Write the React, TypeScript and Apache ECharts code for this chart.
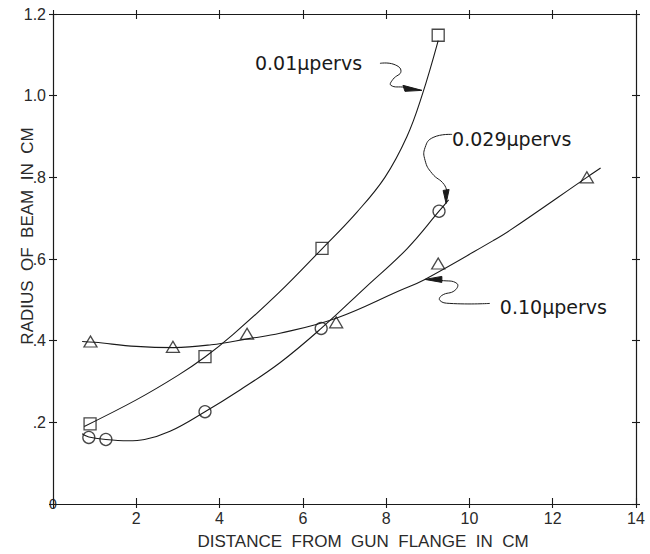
import React, { useEffect, useRef } from 'react';
import * as echarts from 'echarts';

// ---- data ----
const xTickValues = [0, 2, 4, 6, 8, 10, 12, 14];
const yTickValues = [0, 0.2, 0.4, 0.6, 0.8, 1.0, 1.2];

// measured points (markers)
const squarePoints = [[0.89, 0.196], [3.65, 0.361], [6.46, 0.626], [9.25, 1.148]];
const circlePoints = [[0.86, 0.163], [1.27, 0.158], [3.65, 0.226], [6.44, 0.43], [9.27, 0.717]];
const trianglePoints = [[0.9, 0.398], [2.88, 0.385], [4.66, 0.417], [6.8, 0.445], [9.25, 0.589], [12.82, 0.8]];

// hand-drawn curves
const squareCurve = [[0.75, 0.19], [2, 0.255], [3, 0.315], [3.65, 0.36], [4.32, 0.415], [5.4, 0.515], [6.46, 0.625], [7.3, 0.715], [7.97, 0.8], [8.5, 0.9], [8.86, 1.0], [9.25, 1.135]];
const circleCurve = [[0.7, 0.172], [0.86, 0.164], [1.27, 0.158], [1.8, 0.155], [2.2, 0.158], [2.81, 0.178], [3.65, 0.226], [4.5, 0.28], [5.45, 0.346], [6.44, 0.43], [7.5, 0.53], [8.5, 0.625], [9.27, 0.717], [9.5, 0.745]];
const triangleCurve = [[0.7, 0.398], [1, 0.396], [2, 0.386], [2.9, 0.383], [3.8, 0.39], [4.7, 0.405], [5.45, 0.418], [6.8, 0.455], [8.33, 0.523], [8.93, 0.55], [10.57, 0.645], [10.97, 0.67], [12.82, 0.8], [13.15, 0.823]];

// annotation labels and where their arrows touch the curves (data coords)
const annotationTexts = ['0.01μpervs', '0.029μpervs', '0.10μpervs'];
const annotationTips = [[8.86, 1.013], [9.44, 0.736], [8.93, 0.55]];

const xAxisTitle = 'DISTANCE  FROM  GUN  FLANGE  IN  CM';
const yAxisTitle = 'RADIUS  OF  BEAM  IN  CM';

// ---- styling / layout (pixels, relative to the arrow tip) ----
const annotationLayout = [
  {
    label: [-167, -27],
    path: [[-42, -27], [-28, -26], [-21, -19], [-29, -11], [-31, -5], [-17, -3], [-2, 0]],
    head: [[-19, -5], [0, 0], [-17, 1]],
  },
  {
    label: [6, -64],
    path: [[6, -69], [-13, -66], [-21, -56], [-21, -43], [-14, -30], [-2, -19], [1, -10]],
    head: [[-3, -13], [3, -14], [0, 0]],
  },
  {
    label: [75, 28],
    path: [[65, 24], [25, 24], [15, 21], [17, 16], [30, 11], [32, 4], [16, 1], [2, 0]],
    head: [[0, 0], [17, -3], [17, 3]],
  },
];

const INK = '#1a1a1a';
const FONT = 'Liberation Sans, Arial, sans-serif';

function fmtX(v: number) {
  return v === 0 ? '' : String(v);
}
function fmtY(v: number) {
  const r = Math.round(v * 10);
  if (r === 0) return '';
  return r >= 10 ? (r / 10).toFixed(1) : '.' + r;
}

function makeAxis(kind: 'x' | 'y', position: string, inside: boolean, showLine: boolean, showLabel: boolean, tickLen: number) {
  const isX = kind === 'x';
  return {
    type: 'value',
    min: isX ? xTickValues[0] : yTickValues[0],
    max: isX ? xTickValues[xTickValues.length - 1] : yTickValues[yTickValues.length - 1],
    interval: isX ? xTickValues[1] - xTickValues[0] : 0.2,
    position,
    axisLine: { show: showLine, onZero: false, lineStyle: { color: INK, width: 1.2 } },
    axisTick: { show: true, inside, length: tickLen, lineStyle: { color: INK, width: 1.1 } },
    axisLabel: {
      show: showLabel,
      formatter: isX ? fmtX : fmtY,
      color: '#2a2a2a',
      fontSize: 16,
      fontFamily: FONT,
      margin: isX ? 6 : 7,
    },
    splitLine: { show: false },
  };
}

export default function App() {
  const ref = useRef<HTMLDivElement>(null);
  useEffect(() => {
    if (!ref.current) return;
    const chart = echarts.init(ref.current, null, { renderer: 'svg' });
    const lineStyle = { color: INK, width: 1.1 };
    const markerStyle = { color: 'rgba(255,255,255,0)', borderColor: INK, borderWidth: 1.3 };
    chart.setOption({
      animation: false,
      backgroundColor: '#ffffff',
      grid: { left: 53, right: 14, top: 14, bottom: 50, containLabel: false },
      xAxis: [
        makeAxis('x', 'bottom', false, true, true, 4),
        makeAxis('x', 'bottom', true, false, false, 6),
        makeAxis('x', 'top', true, true, false, 5),
        makeAxis('x', 'top', false, false, false, 4),
      ],
      yAxis: [
        makeAxis('y', 'left', false, true, true, 4),
        makeAxis('y', 'left', true, false, false, 4),
        makeAxis('y', 'right', true, true, false, 4),
        makeAxis('y', 'right', false, false, false, 4),
      ],
      series: [
        { type: 'line', data: squareCurve, smooth: 0.4, showSymbol: false, lineStyle, silent: true },
        { type: 'line', data: circleCurve, smooth: 0.4, showSymbol: false, lineStyle, silent: true },
        { type: 'line', data: triangleCurve, smooth: 0.4, showSymbol: false, lineStyle, silent: true },
        { type: 'scatter', data: squarePoints, symbol: 'rect', symbolSize: 12, itemStyle: markerStyle },
        { type: 'scatter', data: circlePoints, symbol: 'circle', symbolSize: 12, itemStyle: markerStyle },
        { type: 'scatter', data: trianglePoints, symbol: 'triangle', symbolSize: [13, 11], itemStyle: markerStyle },
      ],
    });

    const graphics: any[] = [];
    const origin = chart.convertToPixel({ gridIndex: 0 }, [0, 0]) as number[];
    graphics.push({
      type: 'text', x: origin[0], y: origin[1],
      style: { text: '0', fill: '#2a2a2a', font: `14px ${FONT}`, align: 'center', verticalAlign: 'middle' },
    });
    graphics.push({
      type: 'text', x: 363, y: 541,
      style: { text: xAxisTitle, fill: '#2a2a2a', font: `17px ${FONT}`, align: 'center', verticalAlign: 'middle' },
    });
    graphics.push({
      type: 'text', x: 27, y: 236, rotation: Math.PI / 2,
      style: { text: yAxisTitle, fill: '#2a2a2a', font: `17px ${FONT}`, align: 'center', verticalAlign: 'middle' },
    });
    annotationTips.forEach((tip, i) => {
      const p = chart.convertToPixel({ gridIndex: 0 }, tip) as number[];
      const lay = annotationLayout[i];
      graphics.push({
        type: 'polyline',
        shape: { points: lay.path.map(([dx, dy]) => [p[0] + dx, p[1] + dy]), smooth: 0.5 },
        style: { stroke: INK, lineWidth: 1, fill: 'none' },
      });
      graphics.push({
        type: 'polygon',
        shape: { points: lay.head.map(([dx, dy]) => [p[0] + dx, p[1] + dy]) },
        style: { fill: INK, stroke: INK, lineWidth: 1 },
      });
      graphics.push({
        type: 'text', x: p[0] + lay.label[0], y: p[1] + lay.label[1],
        style: { text: annotationTexts[i], fill: '#1a1a1a', font: `19px DejaVu Sans, sans-serif`, align: 'left', verticalAlign: 'middle' },
      });
    });
    chart.setOption({ graphic: graphics });
    return () => chart.dispose();
  }, []);
  return <div ref={ref} style={{ position: 'fixed', left: 0, top: 0, width: 650, height: 554, background: '#fff' }} />;
}
